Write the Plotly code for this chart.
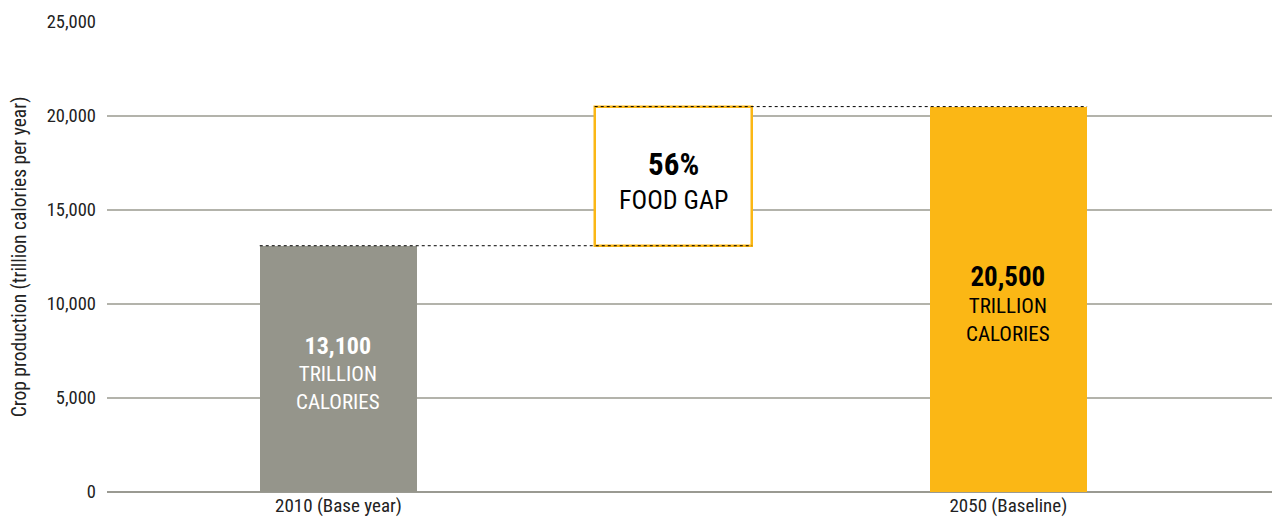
import plotly.graph_objects as go

categories = ["2010 (Base year)", "", "2050 (Baseline)"]
x_pos = [0, 1, 2]
base_value = 13100
future_value = 20500
gap_pct = 56
bar_width = 0.47

FONT = "Liberation Sans Narrow, Roboto Condensed, DejaVu Sans Condensed, Arial Narrow, sans-serif"
GRAY = "#95958b"
GOLD = "#fbb715"

fig = go.Figure()

fig.add_trace(go.Bar(x=[x_pos[0]], y=[base_value], width=bar_width,
                     marker=dict(color=GRAY, line=dict(width=0)), showlegend=False, hoverinfo="skip"))
fig.add_trace(go.Bar(x=[x_pos[1]], y=[future_value - base_value], base=[base_value], width=bar_width,
                     marker=dict(color="white", line=dict(color=GOLD, width=2.5)), showlegend=False, hoverinfo="skip"))
fig.add_trace(go.Bar(x=[x_pos[2]], y=[future_value], width=bar_width,
                     marker=dict(color=GOLD, line=dict(width=0)), showlegend=False, hoverinfo="skip"))

hw = bar_width / 2
fig.add_trace(go.Scatter(x=[x_pos[0] - hw, x_pos[1] + hw], y=[base_value, base_value], mode="lines",
                         line=dict(color="black", width=1, dash="dot"), showlegend=False, hoverinfo="skip"))
fig.add_trace(go.Scatter(x=[x_pos[1] - hw, x_pos[2] + hw], y=[future_value, future_value], mode="lines",
                         line=dict(color="black", width=1, dash="dot"), showlegend=False, hoverinfo="skip"))

fig.add_annotation(x=x_pos[0], y=base_value / 2, yshift=-4,
                   text=f"<b><span style='font-size:24px'>{base_value:,}</span></b><br>TRILLION<br>CALORIES",
                   showarrow=False, font=dict(family=FONT, size=21, color="white"), align="center")
fig.add_annotation(x=x_pos[2], y=future_value / 2, yshift=-4,
                   text=f"<b><span style='font-size:27px'>{future_value:,}</span></b><br>TRILLION<br>CALORIES",
                   showarrow=False, font=dict(family=FONT, size=21, color="black"), align="center")
fig.add_annotation(x=x_pos[1], y=(base_value + future_value) / 2, yshift=-4,
                   text=f"<b><span style='font-size:31px'>{gap_pct}%</span></b><br>FOOD GAP",
                   showarrow=False, font=dict(family=FONT, size=26, color="black"), align="center")

fig.update_layout(
    width=1272, height=531,
    margin=dict(l=107, r=0, t=22, b=39),
    paper_bgcolor="white", plot_bgcolor="white",
    font=dict(family=FONT, color="#222222", size=18),
    bargap=0,
    xaxis=dict(tickmode="array", tickvals=[x_pos[0], x_pos[2]], ticktext=[categories[0], categories[2]],
               range=[-0.691, 2.787], showgrid=False, zeroline=False, showline=False,
               ticks="", tickfont=dict(size=19, color="#222222")),
    yaxis=dict(range=[0, 25000], tickvals=[0, 5000, 10000, 15000, 20000, 25000],
               tickformat=",", showgrid=True, gridcolor="#b3b3ab", gridwidth=1.5,
               zeroline=True, zerolinecolor="#9a9a92", zerolinewidth=1.5, showline=False,
               ticks="", ticklabelstandoff=10, tickfont=dict(size=18.5, color="#222222"),
               title=dict(text="Crop production (trillion calories per year)", standoff=14,
                          font=dict(size=19.5, color="#222222"))),
)

fig.write_html("out.html", config={"displayModeBar": False},
               post_script="document.body.style.margin='0';")
